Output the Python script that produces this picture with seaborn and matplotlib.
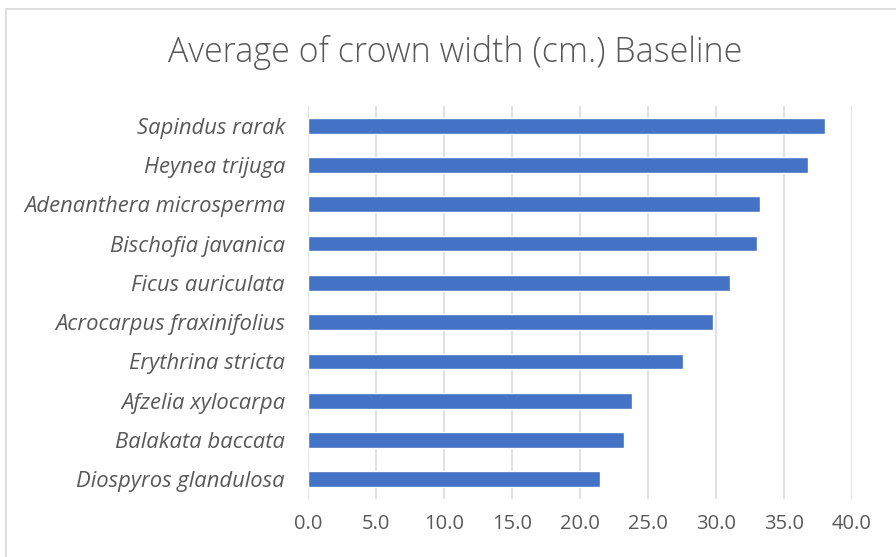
import matplotlib
matplotlib.use("Agg")
import matplotlib.pyplot as plt
import seaborn as sns
import pandas as pd
from matplotlib.patches import Rectangle

species = [
    "Sapindus rarak",
    "Heynea trijuga",
    "Adenanthera microsperma",
    "Bischofia javanica",
    "Ficus auriculata",
    "Acrocarpus fraxinifolius",
    "Erythrina stricta",
    "Afzelia xylocarpa",
    "Balakata baccata",
    "Diospyros glandulosa",
]
crown_width = [38.0, 36.75, 33.2, 33.0, 31.05, 29.8, 27.6, 23.8, 23.2, 21.5]
x_ticks = [0, 5, 10, 15, 20, 25, 30, 35, 40]

df = pd.DataFrame({"species": species, "width": crown_width})

sns.set_theme(style="white")
plt.rcParams["font.family"] = ["Open Sans", "DejaVu Sans"]

text_color = "#595959"
grid_color = "#d9d9d9"

fig = plt.figure(figsize=(8.96, 5.57), dpi=100)
ax = fig.add_axes([308 / 896, 1 - 499 / 557, 544 / 896, 393 / 557])

sns.barplot(data=df, x="width", y="species", order=species, orient="h",
            color="#4472C4", saturation=1, width=0.4, ax=ax, zorder=3)

ax.set_xlim(0, 40)
ax.set_xticks(x_ticks)
ax.set_xticklabels([f"{v:.1f}" for v in x_ticks])
ax.set_xlabel("")
ax.set_ylabel("")
for s in ax.spines.values():
    s.set_visible(False)
ax.grid(axis="x", color=grid_color, linewidth=1.1, zorder=0)
ax.grid(axis="y", visible=False)
ax.tick_params(axis="x", length=0, pad=11, labelsize=14.5, colors=text_color)
ax.tick_params(axis="y", length=0, pad=16.5, labelsize=15.8, colors=text_color)
for lbl in ax.get_yticklabels():
    lbl.set_fontstyle("italic")

fig.text(455 / 896, 1 - 53 / 557, "Average of crown width (cm.) Baseline",
         ha="center", va="center", fontsize=24.5, color=text_color,
         fontweight="light")

# chart frame
fig.patches.append(Rectangle((6 / 896, -0.05), 1.2, 1 - 9 / 557 + 0.05,
                             transform=fig.transFigure, fill=False,
                             edgecolor=grid_color, linewidth=1.2))

fig.savefig("out.png", dpi=100)
